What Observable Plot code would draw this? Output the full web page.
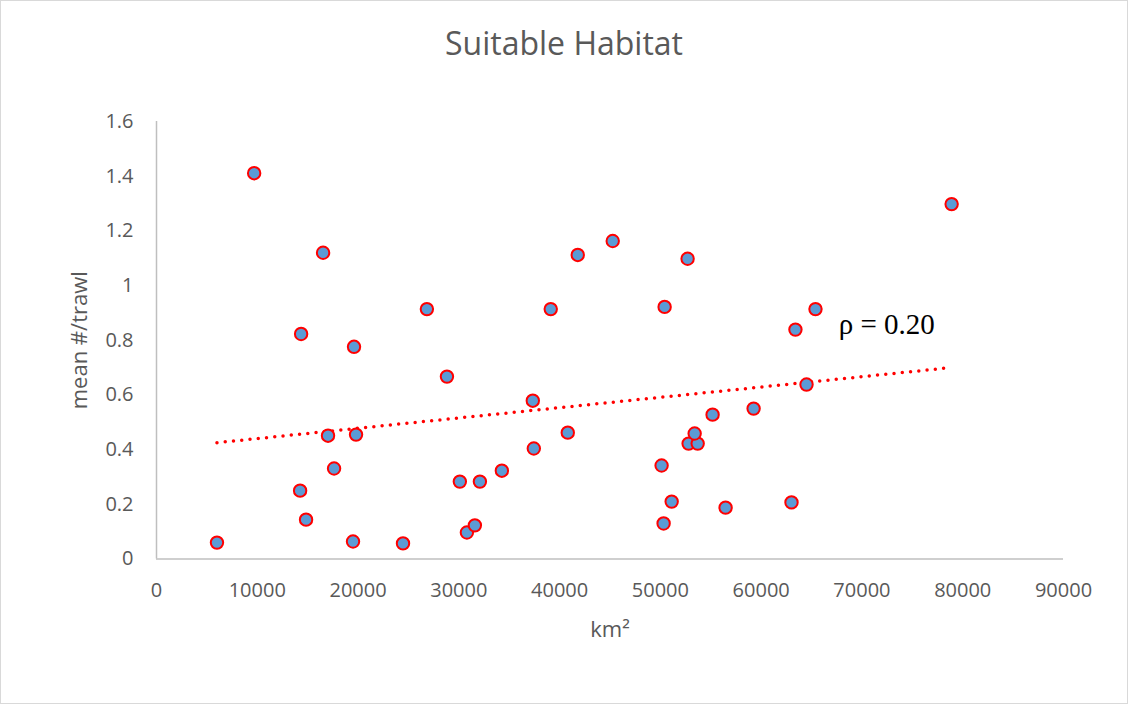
<!DOCTYPE html>
<html><head><meta charset="utf-8">
<script src="https://cdn.jsdelivr.net/npm/d3@7"></script>
<script src="https://cdn.jsdelivr.net/npm/@observablehq/plot@0.6"></script>
<style>
html,body{margin:0;padding:0;background:#fff;}
#chart{position:relative;width:1128px;height:704px;overflow:hidden;font-family:"Open Sans",sans-serif;background:#fff;}
#title{height:80px;box-sizing:border-box;padding-top:27px;line-height:32px;font-size:32px;color:#595959;text-align:center;white-space:nowrap;}
#frame{position:absolute;left:0;top:0;width:1128px;height:704px;box-sizing:border-box;border:1px solid #d9d9d9;pointer-events:none;}
#plot svg{display:block;}
</style></head>
<body>
<div id="chart"><div id="title">Suitable Habitat</div><div id="plot"></div><div id="frame"></div></div>
<script>
// Data
const areaKm2 = [6000, 9690, 16530, 14350, 19600, 17020, 19800, 17620, 14250, 14840, 19500, 24460,
  26830, 28820, 30100, 32090, 30800, 31590, 34270, 37340, 37440, 39120, 41800, 40810,
  45270, 50420, 52700, 50120, 51120, 50320, 52800, 53700, 53400, 55180, 59250, 56470,
  63010, 63400, 65390, 64500, 78900];
const meanPerTrawl = [0.060, 1.411, 1.120, 0.823, 0.776, 0.451, 0.455, 0.331, 0.250, 0.144, 0.064, 0.057,
  0.914, 0.667, 0.283, 0.283, 0.097, 0.123, 0.323, 0.579, 0.404, 0.914, 1.112, 0.462,
  1.163, 0.922, 1.098, 0.342, 0.210, 0.130, 0.422, 0.422, 0.459, 0.528, 0.550, 0.188,
  0.207, 0.839, 0.914, 0.638, 1.298];
const xTicks = [0, 10000, 20000, 30000, 40000, 50000, 60000, 70000, 80000, 90000];
const yTicks = [0, 0.2, 0.4, 0.6, 0.8, 1, 1.2, 1.4, 1.6];
const xLabel = "km²";
const yLabel = "mean #/trawl";
const annotationText = ["ρ = 0.20"];
const annotationX = [67700];
const annotationY = [0.855];

const data = areaKm2.map((x, i) => ({x, y: meanPerTrawl[i]}));
const annotation = annotationText.map((t, i) => ({t, x: annotationX[i], y: annotationY[i]}));
const fmtY = d => String(+d.toFixed(1));

const plot = Plot.plot({
  width: 1128,
  height: 624,
  marginLeft: 156,
  marginRight: 65,
  marginTop: 41,
  marginBottom: 145.5,
  style: {fontFamily: '"Open Sans", sans-serif', fontSize: "20px", color: "#595959", background: "transparent", overflow: "visible"},
  x: {domain: [0, 90000]},
  y: {domain: [0, 1.6]},
  marks: [
    Plot.axisX({ticks: xTicks, tickSize: 0, tickPadding: 24, tickFormat: d => String(d), label: null, fontSize: 20}),
    Plot.axisY({ticks: yTicks, tickSize: 0, tickPadding: 23, tickFormat: fmtY, label: null, fontSize: 20}),
    Plot.ruleY([0], {stroke: "#bfbfbf", strokeWidth: 1.5}),
    Plot.ruleX([0], {stroke: "#bfbfbf", strokeWidth: 1.5}),
    Plot.linearRegressionY(data, {x: "x", y: "y", ci: 0, stroke: "#ff0000", strokeWidth: 3.5, strokeDasharray: "0 8.3", strokeLinecap: "round"}),
    Plot.dot(data, {x: "x", y: "y", r: 6.2, fill: "#5b9bd5", stroke: "#ff0000", strokeWidth: 2}),
    Plot.text(annotation, {x: "x", y: "y", text: "t", textAnchor: "start", fontFamily: '"Liberation Serif", serif', fontSize: 29, fill: "#000"}),
    Plot.text([xLabel], {text: d => d, frameAnchor: "bottom", textAnchor: "middle", lineAnchor: "middle", dy: 70.5, fontSize: 22, fill: "#595959"}),
    Plot.text([yLabel], {text: d => d, frameAnchor: "left", textAnchor: "middle", lineAnchor: "middle", rotate: -90, dx: -77, fontSize: 22, fill: "#595959"})
  ]
});
document.getElementById("plot").appendChild(plot);
</script>
</body></html>
